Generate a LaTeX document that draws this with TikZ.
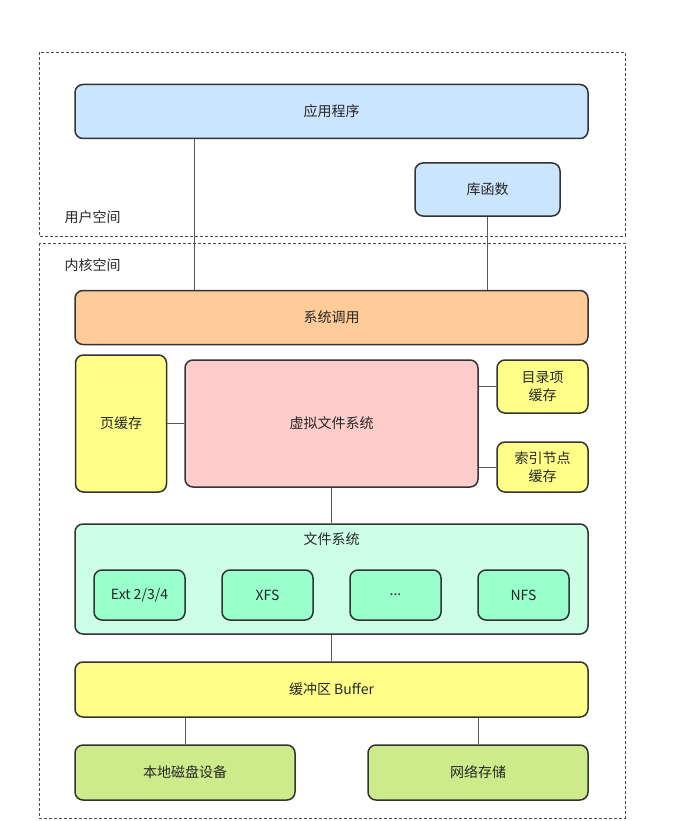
\documentclass[tikz,border=0pt]{standalone}
\usepackage{fontspec}
\setmainfont{Noto Sans CJK SC}
\usepackage{xcolor}
\usetikzlibrary{positioning,calc}

\definecolor{userblue}{HTML}{CCE5FF}
\definecolor{callorange}{HTML}{FFCC99}
\definecolor{cacheyellow}{HTML}{FFFF88}
\definecolor{vfspink}{HTML}{FFCCCC}
\definecolor{fsmint}{HTML}{CCFFE6}
\definecolor{fsgreen}{HTML}{99FFCC}
\definecolor{devgreen}{HTML}{CDEB8B}

\begin{document}
\begin{tikzpicture}[
  x=1pt, y=-1pt,
  every node/.style={font=\fontsize{14}{18}\selectfont, text=black!85},
  blk/.style={draw=black!80, line width=1.5pt, rounded corners=8pt,
    align=center, inner sep=0pt},
  wide/.style={blk, minimum width=513pt, minimum height=54pt},
  userbox/.style={fill=userblue},
  cachebox/.style={blk, fill=cacheyellow, minimum width=91pt},
  fsbox/.style={blk, fill=fsgreen, minimum width=91pt, minimum height=50pt},
  devbox/.style={blk, fill=devgreen, minimum width=220pt, minimum height=55pt},
  region/.style={draw=black!70, dash pattern=on 3pt off 2pt, line width=0.7pt},
  link/.style={draw=black!65, line width=0.9pt},
  spacelbl/.style={anchor=west}
]
\useasboundingbox (0,0) rectangle (672,821);

% user space / kernel space
\draw[region] (39,52) rectangle (625,236);
\draw[region] (39,243) rectangle (625,818);
\node[spacelbl] (user) at (61,217) {用户空间};
\node[spacelbl] (kernel) at (61,265) {内核空间};

% user space
\node[wide, userbox] (app) at (331.5,111.5) {应用程序};
\node[blk, userbox, minimum width=145pt, minimum height=53pt] (lib) at (487.5,189.5) {库函数};

% kernel
\node[wide, fill=callorange] (sys) at (331.5,317.5) {系统调用};
\node[cachebox, minimum height=137pt] (pc) at (121,423.5) {页缓存};
\node[blk, fill=vfspink, minimum width=293pt, minimum height=127pt] (vfs) at (331.5,423.5) {虚拟文件系统};
\node[cachebox, minimum height=53pt] (dent) at (542.5,386.5) {目录项\\缓存};
\node[cachebox, minimum height=50pt] (ino) at (542.5,467) {索引节点\\缓存};

\node[wide, fill=fsmint, minimum height=110pt] (fs) at (331.5,579) {};
\node[below=6pt of fs.north] (fstitle) {文件系统};
\node[fsbox] (ext) at (139.5,595) {Ext 2/3/4};
\node[fsbox] (xfs) at (267.5,595) {XFS};
\node[fsbox] (etc) at (395.5,595) {...};
\node[fsbox] (nfs) at (523.5,595) {NFS};

\node[wide, fill=cacheyellow, minimum height=55pt] (buf) at (331.5,689.5) {缓冲区 Buffer};
\node[devbox] (dsk) at (185,772.5) {本地磁盘设备};
\node[devbox] (net) at (478,772.5) {网络存储};

% connectors
\draw[link] ([xshift=120pt]app.south west) -- ([xshift=120pt]sys.north west);
\draw[link] (lib.south) -- (lib.south |- sys.north);
\draw[link] (pc) -- (vfs);
\draw[link] (dent.west) -- (dent.west -| vfs.east);
\draw[link] (ino.west) -- (ino.west -| vfs.east);
\draw[link] (vfs) -- (fs);
\draw[link] (fs) -- (buf);
\draw[link] (dsk.north) -- (dsk.north |- buf.south);
\draw[link] (net.north) -- (net.north |- buf.south);
\end{tikzpicture}
\end{document}
